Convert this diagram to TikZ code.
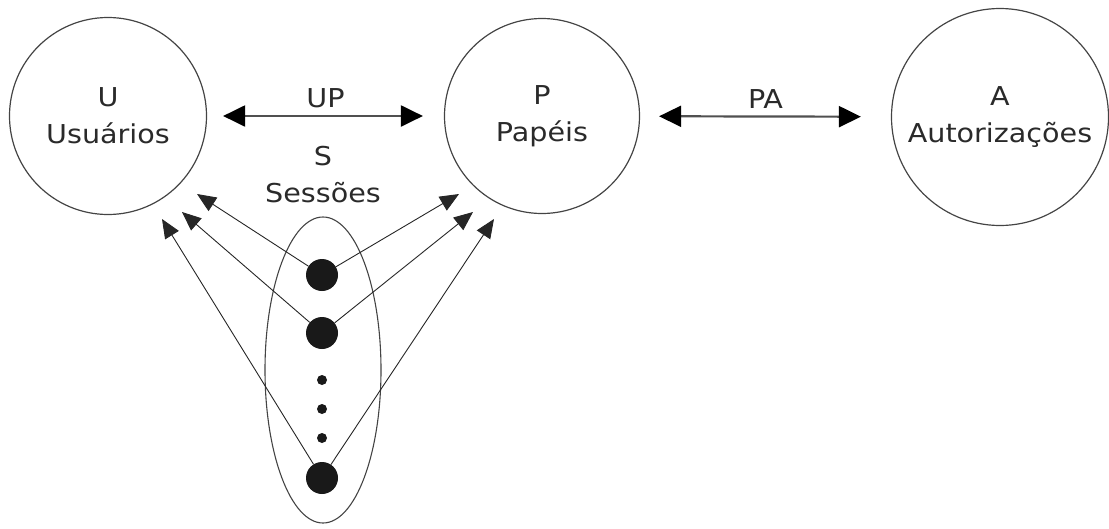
\documentclass[tikz,border=0pt]{standalone}
\usepackage{fontspec}
\setmainfont{DejaVu Sans}[FakeStretch=1.1]
\usetikzlibrary{arrows.meta,shapes.geometric}
\definecolor{textgray}{HTML}{2A2A2A}
\definecolor{linegray}{HTML}{444444}
\definecolor{relgray}{HTML}{505050}
\tikzset{
  txt/.style={text=textgray, align=center, font=\fontsize{26}{37}\selectfont},
  setnode/.style={circle, draw=linegray, line width=1.2pt, inner sep=0pt, txt},
  rel/.style={{Triangle[length=22pt,width=21pt,color=black]}-{Triangle[length=22pt,width=21pt,color=black]},
              line width=2.2pt, draw=relgray},
  link/.style={-{Triangle[length=19pt,width=16pt]}, line width=0.9pt, draw=black!85},
  sess/.style={circle, fill=black!90, minimum size=32pt, inner sep=0pt},
  gapdot/.style={circle, fill=black!90, minimum size=10pt, inner sep=0pt},
}
\begin{document}
\begin{tikzpicture}[x=1pt,y=-1pt]
  \useasboundingbox (0,0) rectangle (1109,528);

  % the three sets
  \node[setnode, minimum size=197pt] (U) at (108,116) {U\\Usuários};
  \node[setnode, minimum size=195pt] (P) at (542,116) {P\\Papéis};
  \node[setnode, minimum size=217pt] (A) at (1000,117) {A\\Autorizações};

  % relations between the sets
  \draw[rel, shorten <=16pt, shorten >=21pt] (U) -- node[txt, midway, above=4pt] {UP} (P);
  \draw[rel, shorten <=19pt, shorten >=30pt] (P) -- node[txt, midway, above=4pt] {PA} (A);

  % sessions
  \node[txt] (slabel) at (323,175) {S\\Sessões};
  \node[ellipse, draw=linegray, line width=1.1pt, minimum width=116pt,
        minimum height=306pt, inner sep=0pt] (sbox) at (323,370) {};
  \node[sess] (s1) at (322,275) {};
  \node[sess] (s2) at (322,333) {};
  \node[gapdot] (g1) at (322,380) {};
  \node[gapdot] (g2) at (322,409) {};
  \node[gapdot] (g3) at (322,438) {};
  \node[sess] (s3) at (322,478) {};

  % arrow ends next to the users and roles sets
  \coordinate (u1) at (197,194);
  \coordinate (u2) at (182,212);
  \coordinate (u3) at (162,219);
  \coordinate (p1) at (459,194);
  \coordinate (p2) at (473,212);
  \coordinate (p3) at (494,219);

  \draw[link] (s1) -- (u1);
  \draw[link] (s2) -- (u2);
  \draw[link] (s3) -- (u3);
  \draw[link] (s1) -- (p1);
  \draw[link] (s2) -- (p2);
  \draw[link] (s3) -- (p3);
\end{tikzpicture}
\end{document}
